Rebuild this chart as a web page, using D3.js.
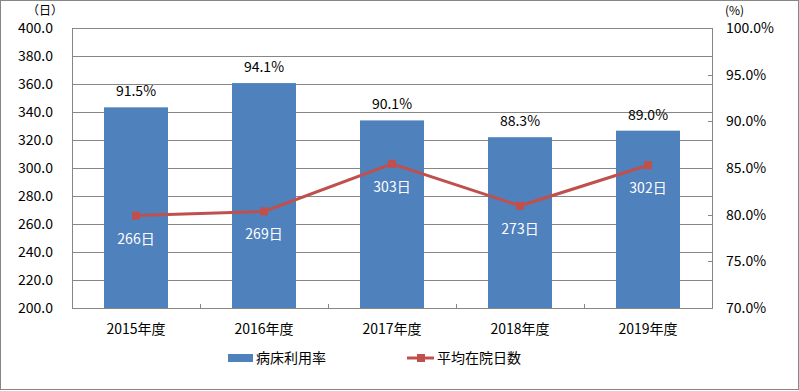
<!DOCTYPE html>
<html>
<head>
<meta charset="utf-8">
<script src="https://cdn.jsdelivr.net/npm/d3@7"></script>
<style>
    body { margin: 0; background: #fff; }
    svg text { font-family: "Noto Sans CJK JP", "Noto Sans", sans-serif; }
</style>
</head>
<body>
<svg id="chart" width="799" height="391"></svg>
<script>
    var years = ['2015年度', '2016年度', '2017年度', '2018年度', '2019年度'];
    var bedRate = [91.5, 94.1, 90.1, 88.3, 89.0];   // 病床利用率 (%)
    var stayDays = [266, 269, 303, 273, 302];        // 平均在院日数 (日)
    var leftTicks = [200, 220, 240, 260, 280, 300, 320, 340, 360, 380, 400];
    var rightTicks = [70, 75, 80, 85, 90, 95, 100];

    (function () {
        var svg = d3.select('#chart');
        var pLeft = 72, pRight = 712, pTop = 28, pBottom = 308;
        var grey = '#868686';
        var fs = 14;

        // outer frame
        svg.append('rect')
            .attr('x', 0.5).attr('y', 0.5)
            .attr('width', 798).attr('height', 389)
            .attr('fill', 'none').attr('stroke', grey);

        var x = d3.scaleBand().domain(years).range([pLeft, pRight]).paddingInner(0.5).paddingOuter(0.25);
        var band = d3.scaleBand().domain(years).range([pLeft, pRight]);
        var yL = d3.scaleLinear().domain([200, 400]).range([pBottom, pTop]);
        var yR = d3.scaleLinear().domain([70, 100]).range([pBottom, pTop]);
        var cx = function (i) { return band(years[i]) + band.bandwidth() / 2; };

        // gridlines
        svg.append('g').selectAll('line')
            .data(leftTicks)
            .enter().append('line')
            .attr('x1', pLeft).attr('x2', pRight)
            .attr('y1', function (d) { return Math.round(yL(d)) + 0.5; })
            .attr('y2', function (d) { return Math.round(yL(d)) + 0.5; })
            .attr('stroke', grey).attr('stroke-width', 1);

        // bars
        svg.append('g').selectAll('rect')
            .data(bedRate)
            .enter().append('rect')
            .attr('x', function (d, i) { return x(years[i]); })
            .attr('width', x.bandwidth())
            .attr('y', function (d) { return yR(d); })
            .attr('height', function (d) { return pBottom - yR(d); })
            .attr('fill', '#4F81BD');

        // axis lines
        svg.append('line').attr('x1', pLeft + 0.5).attr('x2', pLeft + 0.5).attr('y1', pTop).attr('y2', pBottom).attr('stroke', grey);
        svg.append('line').attr('x1', pRight + 0.5).attr('x2', pRight + 0.5).attr('y1', pTop).attr('y2', pBottom).attr('stroke', grey);
        svg.append('line').attr('x1', pLeft).attr('x2', pRight + 1).attr('y1', pBottom + 0.5).attr('y2', pBottom + 0.5).attr('stroke', grey);

        // category boundary ticks
        svg.append('g').selectAll('line')
            .data(years.slice(1))
            .enter().append('line')
            .attr('x1', function (d) { return Math.round(band(d)) + 0.5; })
            .attr('x2', function (d) { return Math.round(band(d)) + 0.5; })
            .attr('y1', pBottom - 4).attr('y2', pBottom)
            .attr('stroke', grey);

        // right ticks (inside)
        svg.append('g').selectAll('line')
            .data(rightTicks)
            .enter().append('line')
            .attr('x1', pRight - 4).attr('x2', pRight)
            .attr('y1', function (d) { return Math.round(yR(d)) + 0.5; })
            .attr('y2', function (d) { return Math.round(yR(d)) + 0.5; })
            .attr('stroke', grey);

        // left tick labels
        svg.append('g').selectAll('text')
            .data(leftTicks)
            .enter().append('text')
            .attr('x', 53)
            .attr('y', function (d) { return yL(d); })
            .attr('dy', '0.35em')
            .attr('text-anchor', 'end')
            .attr('font-size', fs)
            .attr('fill', '#000')
            .text(function (d) { return d.toFixed(1); });

        // right tick labels
        svg.append('g').selectAll('text')
            .data(rightTicks)
            .enter().append('text')
            .attr('x', 726)
            .attr('y', function (d) { return yR(d); })
            .attr('dy', '0.35em')
            .attr('font-size', fs)
            .attr('fill', '#000')
            .text(function (d) { return d.toFixed(1) + '%'; });

        svg.append('text').attr('x', 27).attr('y', 15).attr('font-size', 12).text('（日）');
        svg.append('text').attr('x', 725).attr('y', 15).attr('font-size', 12).text('(%)');

        // category labels
        svg.append('g').selectAll('text')
            .data(years)
            .enter().append('text')
            .attr('x', function (d, i) { return cx(i); })
            .attr('y', 334)
            .attr('text-anchor', 'middle')
            .attr('font-size', fs)
            .text(function (d) { return d; });

        // bar labels
        svg.append('g').selectAll('text')
            .data(bedRate)
            .enter().append('text')
            .attr('x', function (d, i) { return cx(i); })
            .attr('y', function (d) { return yR(d) - 11; })
            .attr('text-anchor', 'middle')
            .attr('font-size', fs)
            .text(function (d) { return d.toFixed(1) + '%'; });

        // line
        var line = d3.line()
            .x(function (d, i) { return cx(i); })
            .y(function (d) { return yL(d); });
        svg.append('path')
            .datum(stayDays)
            .attr('d', line)
            .attr('fill', 'none')
            .attr('stroke', '#C0504D')
            .attr('stroke-width', 3);
        svg.append('g').selectAll('rect')
            .data(stayDays)
            .enter().append('rect')
            .attr('x', function (d, i) { return cx(i) - 4; })
            .attr('y', function (d) { return yL(d) - 4; })
            .attr('width', 8).attr('height', 8)
            .attr('fill', '#C0504D');

        // line labels
        svg.append('g').selectAll('text')
            .data(stayDays)
            .enter().append('text')
            .attr('x', function (d, i) { return cx(i); })
            .attr('y', function (d) { return yL(d) + 23; })
            .attr('dy', '0.35em')
            .attr('text-anchor', 'middle')
            .attr('font-size', fs)
            .attr('fill', '#fff')
            .text(function (d) { return d + '日'; });

        // legend
        var lg = svg.append('g');
        lg.append('rect').attr('x', 228).attr('y', 354).attr('width', 25).attr('height', 8).attr('fill', '#4F81BD');
        lg.append('text').attr('x', 256).attr('y', 358).attr('dy', '0.35em').attr('font-size', fs).text('病床利用率');
        lg.append('line').attr('x1', 407).attr('x2', 434).attr('y1', 358).attr('y2', 358).attr('stroke', '#C0504D').attr('stroke-width', 3);
        lg.append('rect').attr('x', 417).attr('y', 354).attr('width', 8).attr('height', 8).attr('fill', '#C0504D');
        lg.append('text').attr('x', 437).attr('y', 358).attr('dy', '0.35em').attr('font-size', fs).text('平均在院日数');
    })();
</script>
</body>
</html>
